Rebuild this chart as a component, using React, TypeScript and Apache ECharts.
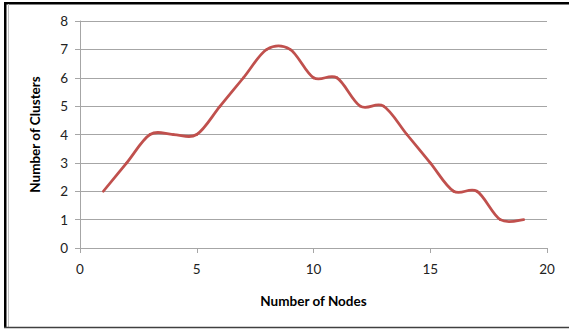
import React, { useEffect, useRef } from "react";
import * as echarts from "echarts";

const nodes = [1, 2, 3, 4, 5, 6, 7, 8, 9, 10, 11, 12, 13, 14, 15, 16, 17, 18, 19];
const clusters = [2, 3, 4, 4, 4, 5, 6, 7, 7, 6, 6, 5, 5, 4, 3, 2, 2, 1, 1];
const xTitle = "Number of Nodes";
const yTitle = "Number of Clusters";

export default function App() {
  const ref = useRef<HTMLDivElement>(null);
  useEffect(() => {
    const chart = echarts.init(ref.current!, null, { renderer: "svg" });
    const font = "Lato, 'Open Sans', sans-serif";
    const pts = nodes.map((n, i) => [n, clusters[i]]);
    chart.setOption({
      animation: false,
      backgroundColor: "#ffffff",
      grid: { left: 80, right: 22, top: 21, bottom: 81 },
      xAxis: {
        type: "value",
        min: 0,
        max: 20,
        interval: 5,
        name: xTitle,
        nameLocation: "middle",
        nameGap: 46,
        nameTextStyle: { fontFamily: font, fontWeight: "bold", fontSize: 13.5, color: "#000" },
        axisLine: { show: true, lineStyle: { color: "#a6a6a6", width: 1 } },
        axisTick: { show: true, inside: false, length: 5, lineStyle: { color: "#a6a6a6" } },
        axisLabel: { fontFamily: font, fontSize: 13.5, color: "#222", margin: 14 },
        splitLine: { show: false },
      },
      yAxis: {
        type: "value",
        min: 0,
        max: 8,
        interval: 1,
        name: yTitle,
        nameLocation: "middle",
        nameGap: 38,
        nameRotate: 90,
        nameTextStyle: { fontFamily: font, fontWeight: "bold", fontSize: 13.5, color: "#000" },
        axisLine: { show: true, lineStyle: { color: "#a6a6a6", width: 1 } },
        axisTick: { show: true, inside: false, length: 5, lineStyle: { color: "#a6a6a6" } },
        axisLabel: { fontFamily: font, fontSize: 13.5, color: "#222", margin: 12 },
        splitLine: { show: true, lineStyle: { color: "#a6a6a6", width: 1 } },
      },
      series: [
        {
          type: "custom",
          coordinateSystem: "cartesian2d",
          data: pts,
          encode: { x: 0, y: 1 },
          clip: false,
          renderItem: (params: any, api: any) => {
            const i = params.dataIndex;
            if (i >= pts.length - 1) return null;
            const c = (k: number) => {
              const kk = Math.max(0, Math.min(pts.length - 1, k));
              return api.coord(pts[kk]);
            };
            const p0 = c(i - 1);
            const p1 = c(i);
            const p2 = c(i + 1);
            const p3 = c(i + 2);
            const t = 1 / 6;
            return {
              type: "bezierCurve",
              shape: {
                x1: p1[0],
                y1: p1[1],
                cpx1: p1[0] + (p2[0] - p0[0]) * t,
                cpy1: p1[1] + (p2[1] - p0[1]) * t,
                cpx2: p2[0] - (p3[0] - p1[0]) * t,
                cpy2: p2[1] - (p3[1] - p1[1]) * t,
                x2: p2[0],
                y2: p2[1],
              },
              style: { stroke: "#c0504d", lineWidth: 2.75, fill: "none", lineCap: "round" },
            };
          },
        },
      ],
      graphic: [
        { type: "rect", shape: { x: 4, y: 2, width: 2.5, height: 326 }, style: { fill: "#000" }, silent: true },
        { type: "rect", shape: { x: 4, y: 2, width: 565, height: 2.5 }, style: { fill: "#000" }, silent: true },
        { type: "line", shape: { x1: 8.5, y1: 4, x2: 8.5, y2: 327 }, style: { stroke: "#c0c0c0", lineWidth: 1 }, silent: true },
        { type: "line", shape: { x1: 4, y1: 327.5, x2: 569, y2: 327.5 }, style: { stroke: "#404040", lineWidth: 1.5 }, silent: true },
      ],
    });
    return () => chart.dispose();
  }, []);
  return (
    <div
      ref={ref}
      style={{ position: "fixed", left: 0, top: 0, width: 569, height: 329 }}
    />
  );
}
